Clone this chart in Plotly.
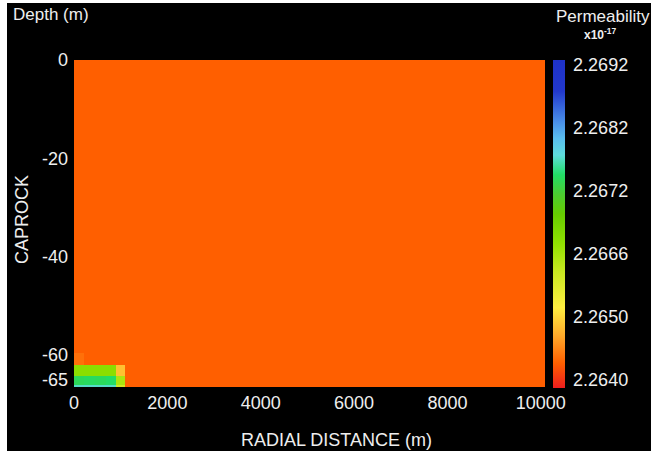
import numpy as np
import plotly.graph_objects as go

# Cell edges of the radial / depth grid
radial_edges = [0, 220, 460, 680, 900, 1090, 10090]          # m
depth_edges = [-66.5, -66.0, -64.2, -62.0, -59.5, 0.0]       # m (bottom -> top)

# Permeability (x1e-17 m^2), one row per depth layer, bottom -> top
base = 2.26426
perm_rows = [
    [2.26772, 2.26772, 2.26772, 2.26772, 2.26600, base],
    [2.26738, 2.26742, 2.26740, 2.26745, 2.26652, base],
    [2.26673, 2.26673, 2.26673, 2.26673, 2.26485, base],
    [2.26436, base, base, base, base, base],
    [base, base, base, base, base, base],
]

# Colour-bar labels (evenly spaced bands)
cbar_labels = [2.2640, 2.2650, 2.2666, 2.2672, 2.2682, 2.2692]
cbar_index = list(range(len(cbar_labels)))

x_ticks = [0, 2000, 4000, 6000, 8000, 10000]
y_ticks = [0, -20, -40, -60, -65]

# map permeability onto the banded colour-bar index
z_idx = np.interp(np.array(perm_rows), cbar_labels, cbar_index)

colorscale = [
    [0.0, "#EE1E1E"],
    [0.075, "#FF5F00"],
    [0.16, "#FFAA2A"],
    [0.245, "#FFEE40"],
    [0.355, "#C8E820"],
    [0.44, "#90E000"],
    [0.53, "#66CC00"],
    [0.59, "#4CCC30"],
    [0.65, "#22DD66"],
    [0.71, "#5EDCDC"],
    [0.76, "#5ABEEE"],
    [0.81, "#4A90E8"],
    [0.905, "#2238CC"],
    [1.0, "#1E32C8"],
]

W, H = 651, 451
L, R, T, B = 74, 106, 60, 64
pw, ph = W - L - R, H - T - B


def px(xp):
    return (xp - L) / pw


def py(yp):
    return (H - B - yp) / ph


fig = go.Figure(
    go.Heatmap(
        x=radial_edges,
        y=depth_edges,
        z=z_idx,
        zmin=-0.13,
        zmax=5.08,
        colorscale=colorscale,
        hoverinfo="skip",
        colorbar=dict(
            x=px(553), xanchor="left", xpad=0,
            y=0.5, yanchor="middle", ypad=0,
            len=328, lenmode="pixels",
            thickness=12, thicknessmode="pixels",
            outlinewidth=0,
            tickvals=cbar_index,
            ticktext=[f"{v:.4f}" for v in cbar_labels],
            ticks="outside", ticklen=5, tickcolor="rgba(0,0,0,0)",
            tickfont=dict(family="Liberation Sans", size=18, color="#EEEEEE"),
        ),
    )
)

txt = dict(family="Liberation Sans", color="#EEEEEE")

fig.update_layout(
    width=W, height=H,
    margin=dict(l=L, r=R, t=T, b=B),
    paper_bgcolor="black",
    plot_bgcolor="black",
    xaxis=dict(
        range=[0, 10090], tickvals=x_ticks, ticktext=[str(v) for v in x_ticks],
        ticks="", showgrid=False, zeroline=False, showline=False,
        ticklabelstandoff=3, tickfont=dict(size=18, **txt),
    ),
    yaxis=dict(
        range=[-66.5, 0], tickvals=y_ticks, ticktext=[str(v) for v in y_ticks],
        ticks="", showgrid=False, zeroline=False, showline=False,
        ticklabelstandoff=5, tickfont=dict(size=18, **txt),
    ),
    annotations=[
        dict(text="Depth (m)", x=px(11), y=py(15), xanchor="left", yanchor="middle",
             font=dict(size=17, **txt)),
        dict(text="Permeability", x=px(603), y=py(16), xanchor="center", yanchor="middle",
             font=dict(size=17, **txt)),
        dict(text="<b>x10<sup>-17</sup></b>", x=px(600), y=py(34), xanchor="center",
             yanchor="middle", font=dict(size=12, **txt)),
        dict(text="CAPROCK", x=px(22), y=py(220), textangle=-90, xanchor="center",
             yanchor="middle", font=dict(size=18, **txt)),
        dict(text="RADIAL DISTANCE (m)", x=px(336), y=py(440), xanchor="center",
             yanchor="middle", font=dict(size=18, **txt)),
    ],
    shapes=[
        dict(type="rect", xref="paper", yref="paper", x0=px(0), x1=px(7),
             y0=py(H), y1=py(0), fillcolor="white", line=dict(width=0), layer="below"),
        dict(type="rect", xref="paper", yref="paper", x0=px(0), x1=px(W),
             y0=py(3), y1=py(0), fillcolor="white", line=dict(width=0), layer="below"),
    ],
)
for a in fig.layout.annotations:
    a.xref = "paper"
    a.yref = "paper"
    a.showarrow = False

fig.write_html("out.html")
